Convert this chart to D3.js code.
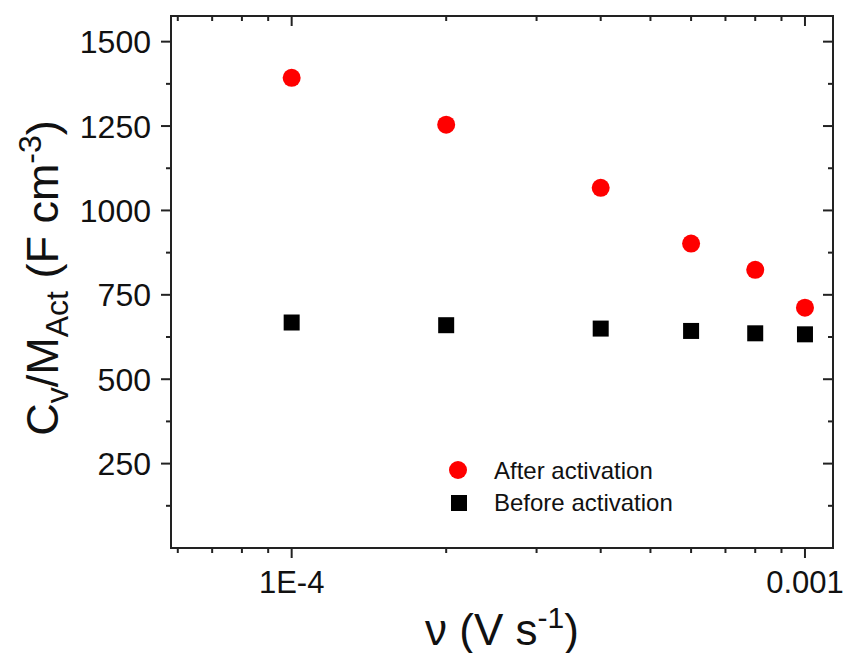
<!DOCTYPE html>
<html>
<head>
<meta charset="utf-8">
<script src="https://cdn.jsdelivr.net/npm/d3@7"></script>
<style>
body { margin:0; background:#fff; }
text { font-family: "Liberation Sans", Arial, sans-serif; fill:#111; }
</style>
</head>
<body>
<div class="chart"></div>
<script>
// data
var scanRates = [1e-4, 2e-4, 4e-4, 6e-4, 8e-4, 1e-3]
var afterActivation = [1393, 1254, 1067, 902, 824, 712]
var beforeActivation = [668, 660, 650, 643, 636, 633]
var yTicks = [250, 500, 750, 1000, 1250, 1500]
var xTickLabels = [{v:1e-4, t:"1E-4"}, {v:1e-3, t:"0.001"}]

var width = 849, height = 653
var margin = {left:171, top:16, right:16, bottom:105}
var svg = d3.select(".chart").append("svg").attr("width",width).attr("height",height)

var x = d3.scaleLog().domain([5.82e-5, 1.134e-3]).range([margin.left, width-margin.right])
var y = d3.scaleLinear().domain([0, 1576]).range([height-margin.bottom, margin.top])

var x0 = x.range()[0], x1 = x.range()[1], y0 = y.range()[0], y1 = y.range()[1]

// minor ticks for log axis
var xMinor = []
;[1e-5, 1e-4].forEach(function(d){
	for (var k=1;k<10;k++){ var v=d*k; if(v>=x.domain()[0] && v<=x.domain()[1]) xMinor.push(v) }
})
xMinor.push(1e-3)
var yMinor = [125, 375, 625, 875, 1125, 1375]

//ticks
var ticks = svg.append("g").attr("stroke","#222").attr("stroke-width",2)
xMinor.forEach(function(v){
	var major = (v==1e-4 || v==1e-3)
	var len = major ? 10 : 5
	ticks.append("line").attr("x1",x(v)).attr("x2",x(v)).attr("y1",y0).attr("y2",y0+len)
	ticks.append("line").attr("x1",x(v)).attr("x2",x(v)).attr("y1",y1).attr("y2",y1+len)
})
yTicks.forEach(function(v){
	ticks.append("line").attr("x1",x0-10).attr("x2",x0).attr("y1",y(v)).attr("y2",y(v))
	ticks.append("line").attr("x1",x1-10).attr("x2",x1).attr("y1",y(v)).attr("y2",y(v))
})
yMinor.forEach(function(v){
	ticks.append("line").attr("x1",x0-5).attr("x2",x0).attr("y1",y(v)).attr("y2",y(v))
	ticks.append("line").attr("x1",x1-5).attr("x2",x1).attr("y1",y(v)).attr("y2",y(v))
})

// frame
svg.append("rect").attr("x",x0).attr("y",y1).attr("width",x1-x0).attr("height",y0-y1)
	.attr("fill","none").attr("stroke","#222").attr("stroke-width",2)

//tick labels
svg.append("g").selectAll("text").data(yTicks).enter().append("text")
	.attr("x",x0-20).attr("y",function(d){return y(d)}).attr("dy","0.36em")
	.attr("text-anchor","end").style("font-size","32px").text(function(d){return d})
svg.append("g").selectAll("text").data(xTickLabels).enter().append("text")
	.attr("x",function(d){return x(d.v)}).attr("y",y0+45)
	.attr("text-anchor","middle").style("font-size","31px").text(function(d){return d.t})

// points
svg.append("g").selectAll("circle").data(scanRates).enter().append("circle")
	.attr("cx",function(d){return x(d)}).attr("cy",function(d,i){return y(afterActivation[i])})
	.attr("r",9).attr("fill","#ff0000")
svg.append("g").selectAll("rect").data(scanRates).enter().append("rect")
	.attr("x",function(d){return x(d)-8}).attr("y",function(d,i){return y(beforeActivation[i])-8})
	.attr("width",16).attr("height",16).attr("fill","#000")

// legend
var legend = svg.append("g")
legend.append("circle").attr("cx",458).attr("cy",470).attr("r",9).attr("fill","#ff0000")
legend.append("rect").attr("x",451).attr("y",495).attr("width",16).attr("height",16).attr("fill","#000")
legend.append("text").attr("x",494).attr("y",479).style("font-size","24px").text("After activation")
legend.append("text").attr("x",494).attr("y",511).style("font-size","24px").text("Before activation")

// axis titles
var xt = svg.append("text").attr("x",(x0+x1)/2).attr("y",645).attr("text-anchor","middle").style("font-size","44px")
xt.append("tspan").text("ν (V s")
xt.append("tspan").attr("dy","-17").style("font-size","30px").text("-1")
xt.append("tspan").attr("dy","17").text(")")

var yt = svg.append("text").attr("transform","translate(58,"+((y0+y1)/2-4)+") rotate(-90)")
	.attr("text-anchor","middle").style("font-size","45px")
yt.append("tspan").text("C")
yt.append("tspan").attr("dy","10").style("font-size","32px").text("v")
yt.append("tspan").attr("dy","-10").text("/M")
yt.append("tspan").attr("dy","10").style("font-size","32px").text("Act")
yt.append("tspan").attr("dy","-10").text(" (F cm")
yt.append("tspan").attr("dy","-17").style("font-size","32px").text("-3")
yt.append("tspan").attr("dy","17").text(")")
</script>
</body>
</html>
